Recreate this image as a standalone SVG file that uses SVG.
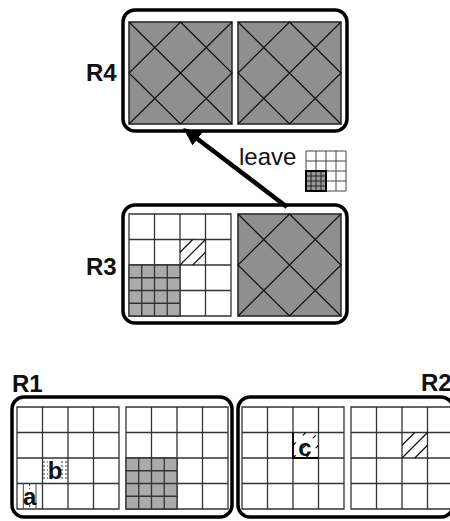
<svg xmlns="http://www.w3.org/2000/svg" xmlns:xlink="http://www.w3.org/1999/xlink" width="450" height="521" viewBox="0 0 450 521">
<style>
.box{fill:#fff;stroke:#000;stroke-width:3.5}
.lbl{font-family:"Liberation Sans",Arial,sans-serif;font-weight:bold;font-size:24px;fill:#111}
.grid{fill:none;stroke:#333;stroke-width:1.3}
.fine{fill:none;stroke:#444;stroke-width:1}
.hatch{fill:none;stroke:#111;stroke-width:1.2}
.let{font-family:"Liberation Sans",Arial,sans-serif;font-weight:bold;font-size:24px;fill:#111;text-anchor:middle}
.tick{fill:none;stroke:#333;stroke-width:1;stroke-dasharray:2 2}
</style>
<defs>
<g id="dsq">
<rect x="0" y="0" width="103" height="102" fill="#8f8f8f" stroke="#222" stroke-width="1.5"/>
<path d="M0,0 L103,102 M103,0 L0,102 M51.5,0 L103,51 L51.5,102 L0,51 Z" fill="none" stroke="#111" stroke-width="1.2"/>
</g>
<g id="grid4">
<rect x="0" y="0" width="102" height="102" fill="#fff"/>
<path class="grid" d="M0,0 H102 V102 H0 Z M25.5,0 V102 M51,0 V102 M76.5,0 V102 M0,25.5 H102 M0,51 H102 M0,76.5 H102"/>
</g>
<g id="sub2">
<rect x="0" y="0" width="51" height="51" fill="#aaa"/>
<path class="grid" d="M0,0 H51 V51 H0 Z M12.75,0 V51 M25.5,0 V51 M38.25,0 V51 M0,12.75 H51 M0,25.5 H51 M0,38.25 H51"/>
</g>
<marker id="ah" markerUnits="strokeWidth" markerWidth="4" markerHeight="3.6" refX="2" refY="1.8" orient="auto">
<path d="M0,0 L4,1.8 L0,3.6 Z" fill="#000"/>
</marker>
</defs>

<g id="R4">
<rect class="box" x="123" y="10" width="224" height="121" rx="12"/>
<use xlink:href="#dsq" x="129" y="22"/>
<use xlink:href="#dsq" x="238" y="22"/>
<text class="lbl" x="86" y="81">R4</text>
</g>

<g id="R3">
<rect class="box" x="123" y="205" width="224" height="118" rx="12"/>
<use xlink:href="#grid4" x="129" y="214"/>
<use xlink:href="#sub2" x="129" y="265"/>
<path class="hatch" d="M180,252.25 L192.75,239.5 M180,265 L205.5,239.5 M192.75,265 L205.5,252.25"/>
<use xlink:href="#dsq" x="238" y="214"/>
<text class="lbl" x="86" y="275">R3</text>
</g>

<g id="R1">
<rect class="box" x="12" y="397" width="220" height="120" rx="12"/>
<use xlink:href="#grid4" x="17" y="407"/>
<use xlink:href="#grid4" x="126" y="407"/>
<use xlink:href="#sub2" x="126" y="458"/>
<path class="fine" d="M23.3,483.5 V509 M36,483.5 V509"/>
<path class="tick" d="M29.7,484 V489 M29.7,505 V509"/>
<text class="let" x="29.7" y="505">a</text>
<path class="tick" d="M43,462 H48 M43,466 H48 M43,470 H48 M43,474 H48 M43,478 H48 M61,462 H67 M61,466 H67 M61,470 H67 M61,474 H67 M61,478 H67"/>
<text class="let" x="55" y="479">b</text>
<text class="lbl" x="12" y="392">R1</text>
</g>

<g id="R2">
<rect class="box" x="238" y="397" width="215" height="120" rx="12"/>
<use xlink:href="#grid4" x="242" y="407"/>
<use xlink:href="#grid4" x="351" y="407"/>
<path class="hatch" stroke-dasharray="4 10" d="M293,445.25 L305.75,432.5 M293,458 L318.5,432.5 M305.75,458 L318.5,445.25"/>
<path d="M293,432.5 V458 H318.5" fill="none" stroke="#000" stroke-width="1.8"/>
<text class="let" x="305" y="456">c</text>
<path class="hatch" d="M402,445.25 L414.75,432.5 M402,458 L427.5,432.5 M414.75,458 L427.5,445.25"/>
<text class="lbl" x="421" y="391">R2</text>
</g>

<g id="leave">
<text x="239" y="165" font-family="'Liberation Sans',Arial,sans-serif" font-size="24" fill="#111">leave</text>
<path class="fine" d="M306,151 H346 V191 H306 Z M316,151 V191 M326,151 V191 M336,151 V191 M306,161 H346 M306,171 H346 M306,181 H346"/>
<rect x="306" y="171" width="20" height="20" fill="#999"/>
<path d="M311,171 V191 M316,171 V191 M321,171 V191 M306,176 H326 M306,181 H326 M306,186 H326" fill="none" stroke="#222" stroke-width="1"/>
<rect x="306" y="171" width="20" height="20" fill="none" stroke="#000" stroke-width="2"/>
</g>

<g id="connectors">
<line x1="287" y1="207" x2="190.3" y2="133.5" stroke="#000" stroke-width="4.5" marker-end="url(#ah)"/>
</g>
</svg>
